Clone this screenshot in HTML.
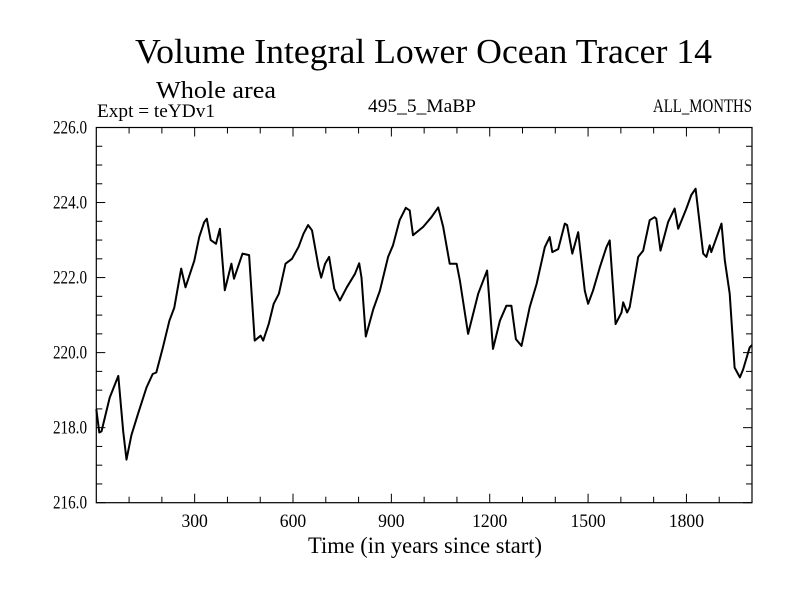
<!DOCTYPE html>
<html><head><meta charset="utf-8"><style>
body{margin:0;background:#fff;}
svg text{font-family:"Liberation Serif",serif;fill:#000;}
</style></head><body>
<svg id="chart" width="800" height="600" xmlns="http://www.w3.org/2000/svg">
<text x="135" y="63" font-size="35" textLength="577" lengthAdjust="spacingAndGlyphs">Volume Integral Lower Ocean Tracer 14</text>
<text x="156" y="98" font-size="24" textLength="120" lengthAdjust="spacingAndGlyphs">Whole area</text>
<text x="97" y="117" font-size="19" textLength="118" lengthAdjust="spacingAndGlyphs">Expt = teYDv1</text>
<text x="368" y="112" font-size="19" textLength="108" lengthAdjust="spacingAndGlyphs">495_5_MaBP</text>
<text x="653" y="112" font-size="19" textLength="99" lengthAdjust="spacingAndGlyphs">ALL_MONTHS</text>
<text x="308" y="553" font-size="23" textLength="234" lengthAdjust="spacingAndGlyphs">Time (in years since start)</text>
<g id="axes"></g>
<path id="series" fill="none" stroke="#000" stroke-width="2" stroke-linejoin="round"/>
</svg>
<script>
const years=[0,9,16,41,67,82,92,107,127,153,172,183,203,223,238,254,259,272,299,314,329,337,349,365,377,392,412,420,446,466,483,501,509,526,541,557,577,597,617,632,646,658,678,686,698,710,726,743,764,789,802,809,822,845,865,890,905,925,944,956,966,997,1022,1043,1058,1078,1099,1109,1134,1165,1192,1210,1231,1251,1266,1280,1297,1322,1343,1368,1383,1391,1409,1429,1436,1452,1470,1490,1500,1515,1536,1556,1566,1584,1602,1607,1619,1627,1653,1668,1688,1703,1708,1721,1744,1764,1775,1800,1815,1828,1851,1861,1871,1876,1907,1917,1932,1947,1963,1973,1993,2000];
const values=[218.49,217.87,217.9,218.8,219.38,217.9,217.15,217.8,218.36,219.07,219.43,219.47,220.14,220.85,221.2,222.0,222.24,221.74,222.45,223.08,223.48,223.57,223.0,222.9,223.3,221.66,222.37,221.97,222.64,222.6,220.32,220.45,220.32,220.76,221.3,221.57,222.37,222.5,222.82,223.17,223.4,223.26,222.28,222.0,222.37,222.55,221.7,221.39,221.74,222.1,222.38,222.0,220.43,221.16,221.65,222.55,222.86,223.53,223.86,223.79,223.13,223.35,223.61,223.87,223.35,222.37,222.37,221.92,220.5,221.57,222.19,220.1,220.85,221.25,221.25,220.36,220.18,221.21,221.83,222.81,223.08,222.68,222.76,223.44,223.4,222.64,223.21,221.65,221.3,221.65,222.28,222.81,222.99,220.76,221.07,221.34,221.07,221.21,222.55,222.72,223.53,223.61,223.57,222.72,223.48,223.84,223.3,223.84,224.2,224.37,222.64,222.55,222.86,222.68,223.44,222.46,221.57,219.6,219.34,219.55,220.14,220.2];
const yTicks=[216,218,220,222,224,226];
const xTicks=[300,600,900,1200,1500,1800];
const X0=96.3,X1=752,Y0=502.7,Y1=127.5,XMIN=0,XMAX=2000,YMIN=216,YMAX=226;
const sx=v=>X0+(v-XMIN)/(XMAX-XMIN)*(X1-X0);
const sy=v=>Y0-(v-YMIN)/(YMAX-YMIN)*(Y0-Y1);
const NS="http://www.w3.org/2000/svg";
const g=document.getElementById('axes');
function mk(tag,attrs){const e=document.createElementNS(NS,tag);for(const k in attrs)e.setAttribute(k,attrs[k]);g.appendChild(e);return e;}
const fr=mk('rect',{x:X0,y:Y1,width:X1-X0,height:Y0-Y1,fill:'none',stroke:'#000','stroke-width':1.2});


for(let v=YMIN;v<=YMAX+1e-9;v+=0.5){const y=sy(v);const L=(Math.abs(v%2)<1e-9)?9:6;
const a=mk('line',{x1:X0,x2:X0+L,y1:y,y2:y,stroke:'#000'});


const b=mk('line',{x1:X1,x2:X1-L,y1:y,y2:y,stroke:'#000'});

}
for(let v=100;v<XMAX;v+=100){const x=sx(v);const L=(v%300===0)?9:6;
const a=mk('line',{x1:x,x2:x,y1:Y0,y2:Y0-L,stroke:'#000'});


const b=mk('line',{x1:x,x2:x,y1:Y1,y2:Y1+L,stroke:'#000'});

}
yTicks.forEach(v=>{const t=mk('text',{x:53,y:sy(v)+6,'font-size':19,textLength:34,lengthAdjust:'spacingAndGlyphs'});t.textContent=v.toFixed(1);

});
xTicks.forEach(v=>{const s=String(v);const w=s.length*8.8;const t=mk('text',{x:sx(v)-w/2,y:527,'font-size':19,textLength:w,lengthAdjust:'spacingAndGlyphs'});t.textContent=s;

});
document.getElementById('series').setAttribute('d',years.map((yr,i)=>(i?'L':'M')+sx(yr).toFixed(1)+' '+sy(values[i]).toFixed(1)).join(' '));
</script>
</body></html>
